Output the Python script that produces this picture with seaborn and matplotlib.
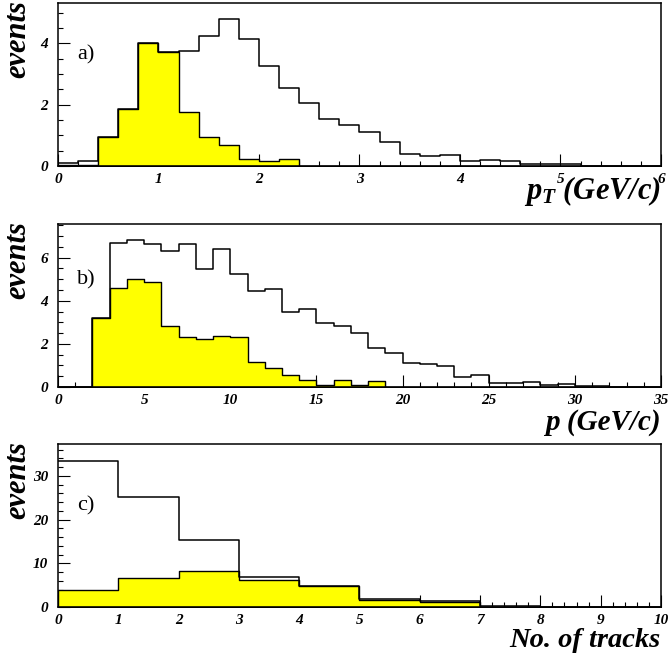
import matplotlib
matplotlib.use("Agg")
import matplotlib.pyplot as plt
from matplotlib.ticker import MultipleLocator
import numpy as np
import pandas as pd
import seaborn as sns

# panel a) transverse momentum, 0.2 GeV/c bins
PT_EDGES = np.linspace(0, 6, 31)
pt_all = [0.09, 0.15, 0.96, 1.85, 4.00, 3.72, 3.76, 4.26, 4.80, 4.14,
          3.25, 2.53, 2.06, 1.54, 1.34, 1.11, 0.77, 0.40, 0.32, 0.35,
          0.15, 0.19, 0.15, 0.05, 0.05, 0.05, 0.01, 0.01, 0.01, 0.01]
pt_sel = [0.04, 0.04, 0.96, 1.85, 4.00, 3.72, 1.75, 0.96, 0.68, 0.23,
          0.15, 0.24, 0, 0, 0, 0, 0, 0, 0, 0,
          0, 0, 0, 0, 0, 0, 0, 0, 0, 0]

# panel b) momentum, 1 GeV/c bins
P_EDGES = np.linspace(0, 35, 36)
p_all = [0, 0, 3.19, 6.70, 6.84, 6.65, 6.30, 6.64, 5.48, 6.42,
         5.25, 4.46, 4.57, 3.47, 3.64, 2.99, 2.82, 2.50, 1.82, 1.56,
         1.11, 1.05, 0.96, 0.46, 0.57, 0.19, 0.20, 0.23, 0.11, 0.14,
         0.05, 0.03, 0.01, 0.01, 0.01]
p_sel = [0, 0, 3.19, 4.58, 5.03, 4.89, 2.82, 2.31, 2.22, 2.39,
         2.33, 1.16, 0.86, 0.56, 0.34, 0.11, 0.34, 0.11, 0.26, 0,
         0, 0, 0, 0, 0, 0, 0, 0, 0, 0,
         0, 0, 0, 0, 0]

# panel c) number of tracks
N_EDGES = np.linspace(0, 10, 11)
n_all = [33.5, 25.2, 15.3, 6.9, 4.85, 1.8, 1.3, 0.2, 0.1, 0.1]
n_sel = [3.94, 6.67, 8.26, 6.2, 4.7, 1.67, 1.2, 0.05, 0, 0]

sns.set_theme(style="ticks")
plt.rcParams.update({
    "font.family": ["Liberation Serif", "DejaVu Serif"],
    "font.weight": "bold",
    "font.style": "italic",
    "mathtext.fontset": "custom",
    "mathtext.it": "Liberation Serif:bold:italic",
    "mathtext.rm": "Liberation Serif:bold:italic",
    "axes.linewidth": 1.1,
    "axes.edgecolor": "black",
    "text.color": "black",
    "xtick.color": "black",
    "ytick.color": "black",
    "axes.labelcolor": "black",
})

PANELS = [
    ("a)", PT_EDGES, pt_all, pt_sel, 5.32, (1, 0.2), (2, 0.5),
     r"$p_{T}$ (GeV/c)", 22, 0.7481, -0.20, 0.68),
    ("b)", P_EDGES, p_all, p_sel, 7.56, (5, 1), (2, 0.5),
     "p (GeV/c)", 21, 0.4127, -0.26, 0.66),
    ("c)", N_EDGES, n_all, n_sel, 37.3, (1, 0.2), (10, 2),
     "No. of tracks", 20.5, 0.0789, -0.245, 0.62),
]

fig = plt.figure(figsize=(6.69, 6.59), dpi=100)

for tag, edges, tot, sel, ymax, xt, yt, xlabel, xl_size, bottom, lab_y, tag_y in PANELS:
    ax = fig.add_axes([0.0867, bottom, 0.9013, 0.2473])
    df = pd.DataFrame({
        "centro": (edges[:-1] + edges[1:]) / 2,
        "todos": tot,
        "sel": sel,
    })
    bins = list(edges)
    sns.histplot(data=df, x="centro", weights="sel", bins=bins,
                 element="step", fill=True, color="#ffff00",
                 edgecolor="black", linewidth=1.0, alpha=1, ax=ax)
    sns.histplot(data=df, x="centro", weights="todos", bins=bins,
                 element="step", fill=False, color="black",
                 linewidth=1.1, ax=ax)
    ax.set_xlim(edges[0], edges[-1])
    ax.set_ylim(0, ymax)
    ax.set_axisbelow(True)
    ax.xaxis.set_major_locator(MultipleLocator(xt[0]))
    ax.xaxis.set_minor_locator(MultipleLocator(xt[1]))
    ax.yaxis.set_major_locator(MultipleLocator(yt[0]))
    ax.yaxis.set_minor_locator(MultipleLocator(yt[1]))
    ax.tick_params(which="both", direction="in", colors="black",
                   top=False, right=False)
    ax.tick_params(which="major", length=8.6, width=0.8, labelsize=11)
    ax.tick_params(which="minor", length=3.6, width=0.8)
    ax.tick_params(axis="x", pad=5)
    ax.tick_params(axis="y", pad=7)
    ax.set_xlabel("")
    ax.set_ylabel("")
    for side in ["top", "right", "left", "bottom"]:
        ax.spines[side].set_visible(True)
    ax.text(-0.066, 1.015, "events", transform=ax.transAxes, rotation=90,
            ha="center", va="top", fontsize=22)
    ax.text(1.0, lab_y, xlabel, transform=ax.transAxes, ha="right",
            va="baseline", fontsize=xl_size)
    ax.text(0.032, tag_y, tag, transform=ax.transAxes, ha="left",
            va="center", fontsize=16, fontweight="normal", fontstyle="normal")

fig.savefig("out.png", dpi=100)
